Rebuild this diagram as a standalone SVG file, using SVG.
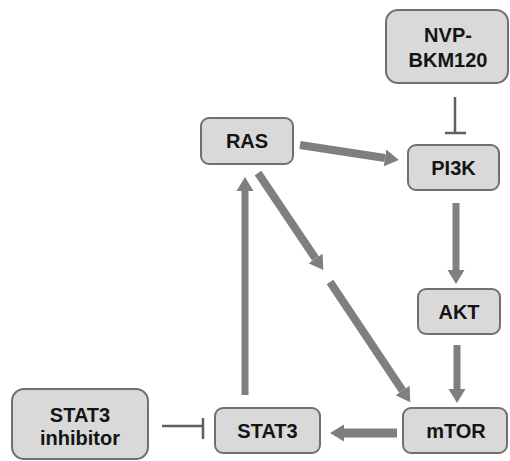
<svg xmlns="http://www.w3.org/2000/svg" width="510" height="461" viewBox="0 0 510 461">
<defs>
<style>
.box{fill:#d9d9d9;stroke:#707070;stroke-width:2}
.lbl{font-family:"Liberation Sans",Arial,sans-serif;font-weight:bold;font-size:20px;fill:#141414;text-anchor:middle}
.arr{stroke:#7f7f7f;fill:none;stroke-linecap:butt}
.inh{stroke:#5f5f5f;stroke-width:2.5;fill:none}
</style>
<marker id="ah" markerUnits="userSpaceOnUse" markerWidth="15" markerHeight="18" refX="0" refY="8.5" orient="auto" viewBox="0 0 15 17">
<path d="M0,0 L14,8.5 L0,17 z" fill="#7f7f7f"/>
</marker>
</defs>
<rect width="510" height="461" fill="#ffffff"/>
<g id="connectors">
<line class="arr" x1="300" y1="145" x2="385" y2="158" stroke-width="8" marker-end="url(#ah)"/>
<line class="arr" x1="456" y1="203" x2="456" y2="270" stroke-width="7" marker-end="url(#ah)"/>
<line class="arr" x1="457" y1="345" x2="457" y2="389" stroke-width="7" marker-end="url(#ah)"/>
<line class="arr" x1="397" y1="433" x2="344" y2="433" stroke-width="9" marker-end="url(#ah)"/>
<line class="arr" x1="245" y1="395" x2="245" y2="191" stroke-width="7" marker-end="url(#ah)"/>
<line class="arr" x1="258" y1="173" x2="315.5" y2="258.5" stroke-width="8" marker-end="url(#ah)"/>
<line class="arr" x1="330" y1="282" x2="402.5" y2="390.5" stroke-width="8" marker-end="url(#ah)"/>
<path class="inh" d="M455,97 V133 M445,133 H466"/>
<path class="inh" d="M162,426 H203 M203,418 V439"/>
</g>
<g id="nvp">
<rect class="box" x="386" y="10" width="122" height="73" rx="12"/>
<text class="lbl" x="448" y="42">NVP-</text>
<text class="lbl" x="448" y="67">BKM120</text>
</g>
<g id="ras">
<rect class="box" x="201" y="118" width="92" height="46" rx="8"/>
<text class="lbl" x="247" y="148">RAS</text>
</g>
<g id="pi3k">
<rect class="box" x="408" y="145" width="91" height="45" rx="8"/>
<text class="lbl" x="453.5" y="175">PI3K</text>
</g>
<g id="akt">
<rect class="box" x="418" y="289" width="82" height="45" rx="8"/>
<text class="lbl" x="459" y="319">AKT</text>
</g>
<g id="mtor">
<rect class="box" x="403" y="408" width="104" height="45" rx="8"/>
<text class="lbl" x="456" y="438">mTOR</text>
</g>
<g id="stat3">
<rect class="box" x="215" y="408" width="105" height="45" rx="8"/>
<text class="lbl" x="267.5" y="438">STAT3</text>
</g>
<g id="stat3inh">
<rect class="box" x="12" y="389" width="136" height="70" rx="12"/>
<text class="lbl" x="80" y="422">STAT3</text>
<text class="lbl" x="80" y="445">inhibitor</text>
</g>
</svg>
